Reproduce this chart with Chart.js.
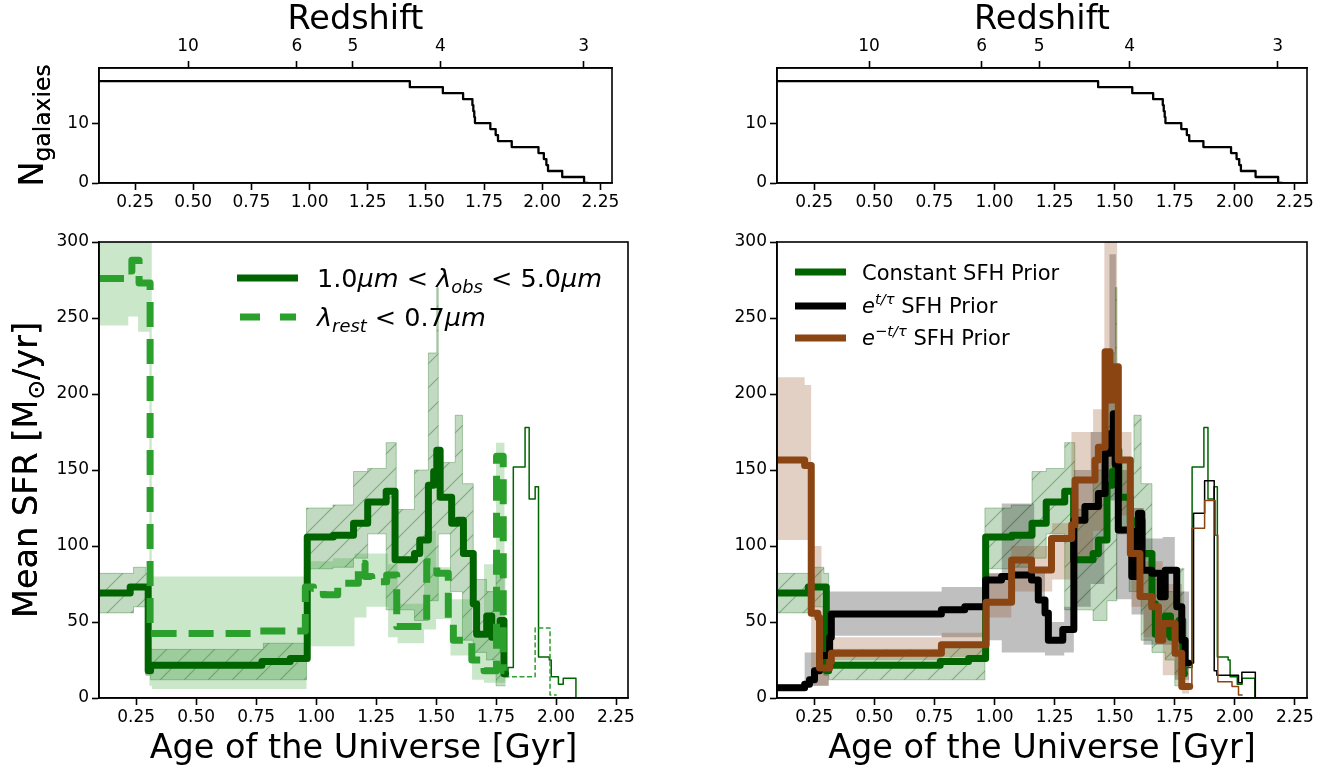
<!DOCTYPE html>
<html><head><meta charset="utf-8">
<script src="https://cdn.jsdelivr.net/npm/chart.js@4.4.1/dist/chart.umd.min.js"></script>
<style>
html,body{margin:0;padding:0;background:#fff;}
#wrap{position:relative;width:1340px;height:773px;overflow:hidden;background:#fff;}
canvas{position:absolute;left:0;top:0;width:1340px;height:773px;}
</style></head><body>
<div id="wrap">
<canvas id="tl" width="1340" height="773"></canvas>
<canvas id="bl" width="1340" height="773"></canvas>
<canvas id="tr" width="1340" height="773"></canvas>
<canvas id="br" width="1340" height="773"></canvas>
</div>
<script>
// ---------- axes / ticks ----------
const ageMin = 0.095, ageMax = 2.30;
const ageTicks = [0.25, 0.50, 0.75, 1.00, 1.25, 1.50, 1.75, 2.00, 2.25];
const zLabels = ['10', '6', '5', '4', '3'];
const zAges = [0.478, 0.946, 1.186, 1.562, 2.178];
const sfrTicks = [0, 50, 100, 150, 200, 250, 300];
const nTicks = [0, 10];

// ---------- number of galaxies (step, post) ----------
const nEdges = [0.095, 1.431, 1.573, 1.66, 1.70, 1.704, 1.708, 1.711, 1.777, 1.80, 1.81, 1.869, 1.984, 2.007, 2.018, 2.025, 2.086, 2.18, 2.196];
const nCount = [17, 16, 15, 14, 13, 12, 11, 10, 9, 8, 7, 6, 5, 4, 3, 2, 1, 0];

// ---------- 1.0um < lambda_obs < 5.0um  (== Constant SFH prior) ----------
const obsEdges = [0.095, 0.225, 0.300, 0.310, 0.774, 0.892, 0.963, 1.072, 1.156, 1.215, 1.292, 1.329, 1.41, 1.432, 1.468, 1.49, 1.503, 1.517, 1.565, 1.59, 1.614, 1.655, 1.669, 1.711, 1.732, 1.767, 1.783, 1.79];
const obsSfr = [69, 73, 18, 21.5, 24, 26, 106, 107, 115, 129, 136, 91, 95, 104, 140, 149, 163, 132, 115, 117, 95, 62, 42, 54, 40, 51, 16];
const obsThinEdges = [1.785, 1.80, 1.822, 1.871, 1.888, 1.913, 1.927, 1.972, 1.98, 2.01, 2.03, 2.083, 2.18];
const obsThinSfr = [16, 20, 152, 178, 131, 139, 27, 25, 14, 9, 13, 0];
const obsBandEdges = [0.095, 0.239, 0.29, 0.31, 0.78, 0.96, 1.07, 1.156, 1.215, 1.292, 1.334, 1.41, 1.468, 1.503, 1.509, 1.56, 1.58, 1.61, 1.655, 1.71, 1.75, 1.79];
const obsLo = [56, 60, 15, 12, 12, 85, 86, 92, 108, 58, 58, 51, 64, 64, 108, 70, 70, 38, 30, 25, 8];
const obsHi = [82, 86, 82, 32, 36, 125, 127, 149, 151, 168, 124, 150, 227, 270, 155, 155, 186, 141, 78, 70, 85];

// ---------- lambda_rest < 0.7um ----------
const restEdges = [0.095, 0.212, 0.232, 0.262, 0.308, 0.767, 0.955, 0.989, 1.03, 1.09, 1.176, 1.204, 1.232, 1.294, 1.336, 1.461, 1.503, 1.551, 1.572, 1.649, 1.70, 1.752, 1.78, 1.785];
const restSfr = [276, 281, 288, 273, 42.5, 44, 73, 72, 68, 75.5, 88.6, 80, 76.5, 81, 47, 89.7, 82, 51, 38, 25, 18, 159, 18];
const restThinEdges = [1.785, 1.913, 1.975, 2.003];
const restThinSfr = [14, 46, 2];
const restBandEdges = [0.095, 0.217, 0.258, 0.305, 0.315, 0.96, 1.07, 1.16, 1.21, 1.30, 1.34, 1.45, 1.50, 1.56, 1.65, 1.70, 1.75, 1.785, 1.79];
const restLo = [245, 251, 241, 8, 6, 34, 34, 53, 60, 40, 36, 45, 52, 28, 12, 10, 10, 10];
const restHi = [310, 310, 310, 310, 80, 90, 92, 95, 95, 88, 62, 110, 86, 65, 40, 88, 168, 30];

// ---------- e^{t/tau} SFH prior ----------
const expEdges = [0.095, 0.21, 0.23, 0.251, 0.272, 0.314, 0.321, 0.779, 0.876, 0.963, 1.029, 1.071, 1.154, 1.182, 1.21, 1.224, 1.284, 1.33, 1.376, 1.432, 1.46, 1.48, 1.494, 1.502, 1.515, 1.571, 1.599, 1.613, 1.654, 1.69, 1.71, 1.758, 1.779, 1.793, 1.807];
const expSfr = [6.8, 9, 12, 18, 28, 40, 55.3, 58, 60, 77.6, 80, 81, 77.6, 64.5, 56, 38, 45, 117, 126, 134.6, 161, 174, 187, 154, 110.5, 80, 121.5, 84, 82, 66.6, 84, 60, 38, 23];
const expThinEdges = [1.805, 1.828, 1.874, 1.914, 1.925, 2.015, 2.029, 2.085, 2.18];
const expThinSfr = [23, 121.5, 143, 18, 15, 10, 17, 0];
const expBandEdges = [0.095, 0.21, 0.31, 0.78, 0.96, 1.03, 1.165, 1.21, 1.29, 1.33, 1.40, 1.457, 1.478, 1.505, 1.57, 1.62, 1.70, 1.75, 1.81];
const expLo = [5, 8, 41, 40, 38, 30, 30, 28, 30, 60, 75, 110, 130, 65, 55, 35, 35, 12];
const expHi = [9, 30, 70, 73, 82, 128, 85, 50, 60, 150, 175, 220, 292, 150, 125, 105, 106, 70];

// ---------- e^{-t/tau} SFH prior ----------
const decEdges = [0.095, 0.21, 0.2375, 0.265, 0.272, 0.314, 0.321, 0.779, 0.965, 1.071, 1.154, 1.237, 1.321, 1.335, 1.418, 1.432, 1.46, 1.48, 1.501, 1.515, 1.565, 1.605, 1.654, 1.682, 1.70, 1.751, 1.779, 1.812];
const decSfr = [156.6, 153, 55.7, 53, 19.7, 24, 29.4, 35, 63, 90.8, 84.2, 105, 114, 143.4, 156.6, 165, 227.8, 196, 218, 156.6, 95, 66.7, 60, 38, 49, 29.4, 7.5];
const decThinEdges = [1.81, 1.821, 1.874, 1.918, 1.929, 1.988, 2.015, 2.03];
const decThinSfr = [7.5, 111.6, 130, 107, 10.7, 7.5, 2];
const decBandEdges = [0.095, 0.21, 0.237, 0.28, 0.31, 0.78, 0.96, 1.07, 1.155, 1.24, 1.32, 1.41, 1.457, 1.475, 1.51, 1.57, 1.62, 1.70, 1.78, 1.81];
const decLo = [104, 104, 8, 8, 25, 27, 53, 70, 70, 78, 90, 110, 150, 150, 120, 60, 40, 15, 3];
const decHi = [211, 206, 100, 60, 40, 43, 82, 100, 100, 115, 175, 190, 300, 310, 175, 125, 90, 75, 20];

// ---------- styling ----------
const F = '"DejaVu Sans", sans-serif';
const DG = '#006400', TG = '#2ca02c', BR = '#8b4513';
const TICK = 17, TITLE = 33.5;
Chart.defaults.font.family = F;
Chart.defaults.color = '#000';

function stepPts(edges, vals) {
  const p = [];
  for (let i = 0; i < vals.length; i++) p.push({x: edges[i], y: vals[i]});
  p.push({x: edges[edges.length - 1], y: vals[vals.length - 1]});
  return p;
}
function lineDs(edges, vals, color, width, dash) {
  return {data: stepPts(edges, vals), stepped: true, borderColor: color, borderWidth: width,
    borderDash: dash || [], pointRadius: 0, fill: false, borderJoinStyle: 'round',
    borderCapStyle: dash ? 'butt' : 'round', xAxisID: 'x', yAxisID: 'y'};
}
function bandDs(edges, lo, hi, fillColor, edgeColor) {
  const ec = edgeColor || 'rgba(0,0,0,0)', ew = edgeColor ? 1 : 0;
  return [
    {data: stepPts(edges, hi), stepped: true, borderColor: ec, borderWidth: ew, pointRadius: 0,
     fill: '+1', backgroundColor: fillColor, xAxisID: 'x', yAxisID: 'y'},
    {data: stepPts(edges, lo), stepped: true, borderColor: ec, borderWidth: ew, pointRadius: 0,
     fill: false, xAxisID: 'x', yAxisID: 'y'}
  ];
}
function hatch() {
  const s = 24, c = document.createElement('canvas'); c.width = c.height = s;
  const g = c.getContext('2d');
  g.fillStyle = 'rgba(0,100,0,0.24)'; g.fillRect(0, 0, s, s);
  g.strokeStyle = 'rgba(0,90,0,0.35)'; g.lineWidth = 1.2;
  g.beginPath();
  g.moveTo(-2, s + 2); g.lineTo(s + 2, -2);
  g.moveTo(-2, 2); g.lineTo(2, -2);
  g.moveTo(s - 2, s + 2); g.lineTo(s + 2, s - 2);
  g.stroke();
  return g.createPattern(c, 'repeat');
}
const HATCH = hatch();

function rich(ctx, x, y, segs, size, align) {
  let w = 0;
  const parts = segs.map(s => {
    const sz = (s.sub || s.sup) ? size * 0.7 : size;
    const font = (s.it ? 'italic ' : '') + sz + 'px ' + F;
    ctx.font = font;
    const mw = ctx.measureText(s.t).width;
    w += mw;
    return {s, font, mw, dy: s.sub ? size * 0.22 : (s.sup ? -size * 0.42 : 0)};
  });
  let cx = align === 'center' ? x - w / 2 : x;
  ctx.textAlign = 'left'; ctx.textBaseline = 'alphabetic'; ctx.fillStyle = '#000';
  parts.forEach(p => { ctx.font = p.font; ctx.fillText(p.s.t, cx, y + p.dy); cx += p.mw; });
}

const gridOpt = {drawOnChartArea: false, drawTicks: true, tickLength: 7, tickWidth: 1.6, tickColor: '#000'};
const borderOpt = {display: true, color: '#000', width: 1.6};

function xScale(h, withTitle) {
  return {type: 'linear', position: 'bottom', min: ageMin, max: ageMax,
    afterBuildTicks: s => { s.ticks = ageTicks.map(v => ({value: v})); },
    afterFit: s => { s.height = h; },
    ticks: {callback: v => v.toFixed(2), autoSkip: false, maxRotation: 0, font: {size: TICK}, color: '#000', padding: 2},
    title: {display: withTitle, text: 'Age of the Universe [Gyr]', font: {size: TITLE}, color: '#000', padding: {top: 0, bottom: 4}},
    grid: gridOpt, border: borderOpt};
}
function zScale() {
  return {type: 'linear', position: 'top', min: ageMin, max: ageMax,
    afterBuildTicks: s => { s.ticks = zAges.map(v => ({value: v})); },
    afterFit: s => { s.height = 68; },
    ticks: {callback: (v, i) => zLabels[i], autoSkip: false, maxRotation: 0, font: {size: TICK}, color: '#000', padding: 4},
    title: {display: true, text: 'Redshift', font: {size: TITLE}, color: '#000', padding: {top: 0, bottom: 0}},
    grid: gridOpt, border: borderOpt};
}
function yScale(min, max, ticks) {
  return {type: 'linear', position: 'left', min: min, max: max,
    afterBuildTicks: s => { s.ticks = ticks.map(v => ({value: v})); },
    afterFit: s => { s.width = 60; },
    ticks: {autoSkip: false, font: {size: TICK}, color: '#000', padding: 3},
    grid: gridOpt, border: borderOpt};
}
function decoPlugin(ylabel, legend) {
  return {id: 'deco', afterDraw(chart) {
    const ctx = chart.ctx, a = chart.chartArea;
    ctx.save();
    ctx.strokeStyle = '#000'; ctx.lineWidth = 1.6;
    ctx.strokeRect(a.left, a.top, a.right - a.left, a.bottom - a.top);
    ctx.translate(ylabel.x, (a.top + a.bottom) / 2);
    ctx.rotate(-Math.PI / 2);
    rich(ctx, 0, 0, ylabel.segs, TITLE, 'center');
    ctx.restore();
    if (legend) legend(ctx);
  }};
}

function topChart(id, L, R) {
  new Chart(document.getElementById(id), {
    type: 'line',
    data: {datasets: [lineDs(nEdges, nCount, '#000', 2.3)]},
    options: {responsive: false, animation: false, devicePixelRatio: 1, events: [],
      layout: {padding: {left: L - 60, right: 1340 - R, top: 0, bottom: 773 - 183 - 32}},
      plugins: {legend: {display: false}, tooltip: {enabled: false}},
      scales: {x: xScale(32, false), x2: zScale(), y: yScale(0, 19.2, nTicks)}},
    plugins: [decoPlugin({x: 43, segs: [{t: 'N'}, {t: 'galaxies', sub: 1}]}, null)]
  });
}
function bottomChart(id, L, R, datasets, legend) {
  new Chart(document.getElementById(id), {
    type: 'line',
    data: {datasets: datasets},
    options: {responsive: false, animation: false, devicePixelRatio: 1, events: [],
      layout: {padding: {left: L - 60, right: 1340 - R, top: 242, bottom: 0}},
      plugins: {legend: {display: false}, tooltip: {enabled: false}},
      scales: {x: xScale(75, true), y: yScale(0, 300, sfrTicks)}},
    plugins: [decoPlugin({x: 37, segs: [{t: 'Mean SFR [M'}, {t: '⊙', sub: 1}, {t: '/yr]'}]}, legend)]
  });
}

topChart('tl', 99, 612);
topChart('tr', 777, 1307);

const W = 7, THIN = 1.5, DASH = [25, 12];

bottomChart('bl', 99, 628, [
  lineDs(restEdges, restSfr, TG, W, DASH),
  lineDs(obsEdges, obsSfr, DG, W),
  lineDs(restThinEdges, restThinSfr, TG, THIN, [5, 2.5]),
  lineDs(obsThinEdges, obsThinSfr, DG, THIN),
  ...bandDs(restBandEdges, restLo, restHi, 'rgba(44,160,44,0.25)'),
  ...bandDs(obsBandEdges, obsLo, obsHi, HATCH, 'rgba(0,100,0,0.3)')
], ctx => {
  ctx.save();
  ctx.lineWidth = W; ctx.lineCap = 'butt';
  ctx.strokeStyle = DG; ctx.beginPath(); ctx.moveTo(237, 278); ctx.lineTo(298, 278); ctx.stroke();
  ctx.strokeStyle = TG; ctx.setLineDash([20, 20]); ctx.beginPath(); ctx.moveTo(240, 317); ctx.lineTo(296, 317); ctx.stroke();
  ctx.setLineDash([]);
  rich(ctx, 317, 287, [{t: '1.0'}, {t: 'μm', it: 1}, {t: ' < '}, {t: 'λ', it: 1}, {t: 'obs', it: 1, sub: 1}, {t: ' < 5.0'}, {t: 'μm', it: 1}], 25.5);
  rich(ctx, 317, 326, [{t: 'λ', it: 1}, {t: 'rest', it: 1, sub: 1}, {t: ' < 0.7'}, {t: 'μm', it: 1}], 25.5);
  ctx.restore();
});

bottomChart('br', 777, 1307, [
  lineDs(decEdges, decSfr, BR, W),
  lineDs(expEdges, expSfr, '#000', W),
  lineDs(obsEdges, obsSfr, DG, W),
  lineDs(decThinEdges, decThinSfr, BR, THIN),
  lineDs(expThinEdges, expThinSfr, '#000', THIN),
  lineDs(obsThinEdges, obsThinSfr, DG, THIN),
  ...bandDs(decBandEdges, decLo, decHi, 'rgba(139,69,19,0.25)'),
  ...bandDs(expBandEdges, expLo, expHi, 'rgba(0,0,0,0.25)'),
  ...bandDs(obsBandEdges, obsLo, obsHi, HATCH, 'rgba(0,100,0,0.3)')
], ctx => {
  ctx.save();
  ctx.lineWidth = W; ctx.lineCap = 'butt';
  [[DG, 272], ['#000', 306], [BR, 338]].forEach(([c, y]) => {
    ctx.strokeStyle = c; ctx.beginPath(); ctx.moveTo(795, y); ctx.lineTo(846, y); ctx.stroke();
  });
  rich(ctx, 862, 280, [{t: 'Constant SFH Prior'}], 21);
  rich(ctx, 862, 313, [{t: 'e', it: 1}, {t: 't/τ', it: 1, sup: 1}, {t: ' SFH Prior'}], 21);
  rich(ctx, 862, 345, [{t: 'e', it: 1}, {t: '−', sup: 1}, {t: 't/τ', it: 1, sup: 1}, {t: ' SFH Prior'}], 21);
  ctx.restore();
});
</script>
</body></html>
